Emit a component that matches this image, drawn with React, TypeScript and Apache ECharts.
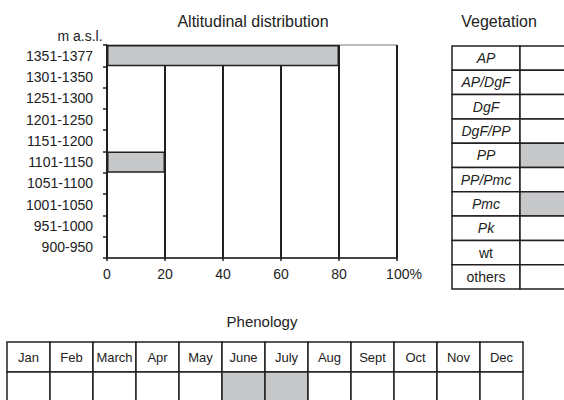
import React, { useEffect, useRef } from "react";
import * as echarts from "echarts";

const altCategories = [
  "1351-1377", "1301-1350", "1251-1300", "1201-1250", "1151-1200",
  "1101-1150", "1051-1100", "1001-1050", "951-1000", "900-950",
];
const altValues = [80, 0, 0, 0, 0, 20, 0, 0, 0, 0];
const altTicks = [0, 20, 40, 60, 80, 100];

const vegTypes = ["AP", "AP/DgF", "DgF", "DgF/PP", "PP", "PP/Pmc", "Pmc", "Pk", "wt", "others"];
const vegPresence = [0, 0, 0, 0, 1, 0, 1, 0, 0, 0];

const months = ["Jan", "Feb", "March", "Apr", "May", "June", "July", "Aug", "Sept", "Oct", "Nov", "Dec"];
const phenology = [0, 0, 0, 0, 0, 1, 1, 0, 0, 0, 0, 0];

const FONT = "Liberation Sans, Arial, Helvetica, sans-serif";
const INK = "#231f20";
const GRAY = "#c7c8ca";

export default function App() {
  const ref = useRef<HTMLDivElement>(null);
  useEffect(() => {
    document.body.style.margin = "0";
    const chart = echarts.init(ref.current!, null, { renderer: "svg" });
    const option: any = {
      animation: false,
      backgroundColor: "#fff",
      textStyle: { fontFamily: FONT },
      grid: [
        { left: 107, top: 45, width: 290, height: 213, show: true, borderColor: "#777", borderWidth: 1, backgroundColor: "transparent" },
        { left: 452, top: 46, width: 112, height: 243 },
        { left: 7, top: 342, width: 516, height: 58 },
      ],
      xAxis: [
        {
          gridIndex: 0, type: "value", min: 0, max: 100, interval: 20,
          axisLine: { show: true, lineStyle: { color: INK, width: 1.5 } },
          axisTick: { show: true, length: 3, lineStyle: { color: INK, width: 1.5 } },
          splitLine: { show: true, lineStyle: { color: INK, width: 2 } },
          axisLabel: {
            fontSize: 14, color: "#222", fontFamily: FONT, margin: 9,
            formatter: (v: number) => (v === altTicks[altTicks.length - 1] ? "{pad|}" + v + "%" : String(v)),
            rich: { pad: { width: 14 } },
          },
        },
        { gridIndex: 1, type: "value", min: 0, max: 112 / 68, show: false },
        { gridIndex: 2, type: "category", data: months, show: false },
      ],
      yAxis: [
        {
          gridIndex: 0, type: "category", data: altCategories, inverse: true,
          axisLine: { show: true, lineStyle: { color: INK, width: 1.5 } },
          axisTick: { show: true, length: 4, lineStyle: { color: INK, width: 1.5 } },
          axisLabel: { fontSize: 14, color: "#222", fontFamily: FONT, margin: 14 },
          splitLine: { show: false },
        },
        { gridIndex: 1, type: "category", data: vegTypes, inverse: true, show: false },
        { gridIndex: 2, type: "value", min: 0, max: 58 / 30, inverse: true, show: false },
      ],
      series: [
        {
          type: "bar", xAxisIndex: 0, yAxisIndex: 0,
          data: altValues.map((v) => (v > 0 ? v : null)),
          barCategoryGap: "0%",
          itemStyle: { color: GRAY, borderColor: INK, borderWidth: 1.5 },
          z: 5,
        },
        {
          type: "custom", xAxisIndex: 1, yAxisIndex: 1, clip: false,
          data: vegTypes.map((_, i) => [0, i, vegPresence[i]]),
          renderItem: (params: any, api: any) => {
            const row = api.value(1);
            const pres = api.value(2);
            const p = api.coord([0, row]);
            const s = api.size([1, 1]);
            const w = s[0], h = s[1];
            const x = p[0], y = p[1] - h / 2;
            const name = vegTypes[row];
            const italic = /[A-Z]/.test(name);
            return {
              type: "group",
              children: [
                { type: "rect", shape: { x, y, width: w, height: h }, style: { fill: "#fff", stroke: INK, lineWidth: 1.5 } },
                { type: "rect", shape: { x: x + w, y, width: w, height: h }, style: { fill: pres ? GRAY : "#fff", stroke: INK, lineWidth: 1.5 } },
                {
                  type: "text", x: x + w / 2, y: p[1],
                  style: { text: name, align: "center", verticalAlign: "middle", fontSize: 14, fontStyle: italic ? "italic" : "normal", fontFamily: FONT, fill: "#222" },
                },
              ],
            };
          },
        },
        {
          type: "custom", xAxisIndex: 2, yAxisIndex: 2, clip: false,
          data: months.map((_, i) => [i, 0, phenology[i]]),
          renderItem: (params: any, api: any) => {
            const col = api.value(0);
            const val = api.value(2);
            const p = api.coord([col, 0]);
            const s = api.size([1, 1]);
            const w = s[0], h = s[1];
            const x = p[0] - w / 2, y = p[1];
            return {
              type: "group",
              children: [
                { type: "rect", shape: { x, y, width: w, height: h }, style: { fill: "#fff", stroke: INK, lineWidth: 1.5 } },
                { type: "rect", shape: { x, y: y + h, width: w, height: h }, style: { fill: val ? GRAY : "#fff", stroke: INK, lineWidth: 1.5 } },
                {
                  type: "text", x: p[0], y: y + h / 2,
                  style: { text: months[col], align: "center", verticalAlign: "middle", fontSize: 13, fontFamily: FONT, fill: "#222" },
                },
              ],
            };
          },
        },
      ],
      graphic: [
        { type: "text", x: 253, y: 21, style: { text: "Altitudinal distribution", align: "center", verticalAlign: "middle", fontSize: 16, fontFamily: FONT, fill: "#222" } },
        { type: "text", x: 80, y: 36, style: { text: "m a.s.l.", align: "center", verticalAlign: "middle", fontSize: 14, fontFamily: FONT, fill: "#222" } },
        { type: "text", x: 499, y: 21, style: { text: "Vegetation", align: "center", verticalAlign: "middle", fontSize: 16, fontFamily: FONT, fill: "#222" } },
        { type: "text", x: 262, y: 321, style: { text: "Phenology", align: "center", verticalAlign: "middle", fontSize: 15, fontFamily: FONT, fill: "#222" } },
      ],
    };
    chart.setOption(option);
    return () => chart.dispose();
  }, []);
  return <div ref={ref} style={{ width: 564, height: 400 }} />;
}
